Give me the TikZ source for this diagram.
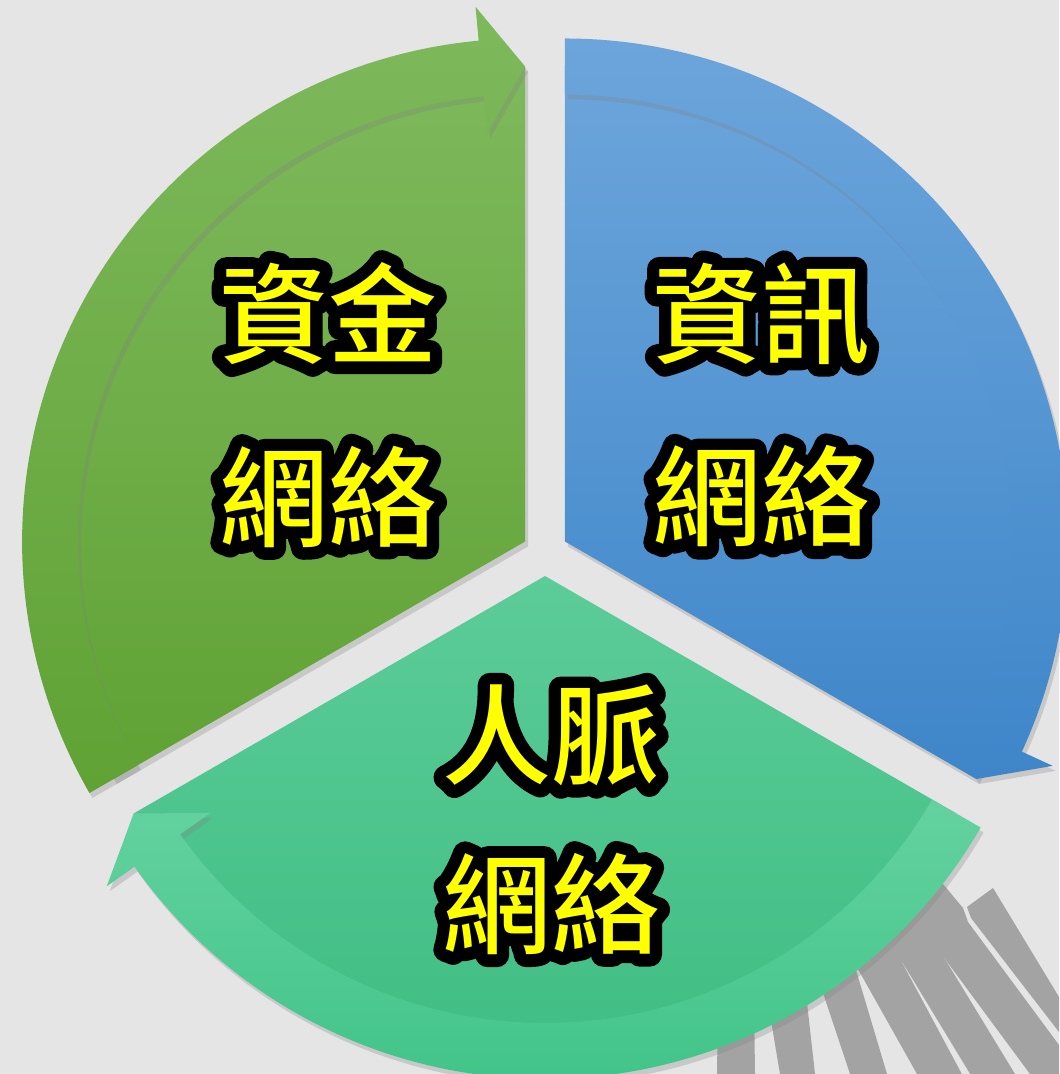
\documentclass[tikz,border=0pt]{standalone}
\usepackage{fontspec}
\IfFontExistsTF{Noto Sans CJK TC Medium}
  {\newfontfamily\cjk{Noto Sans CJK TC Medium}}
  {\newfontfamily\cjk{Noto Sans CJK TC}[FakeBold=1.2]}
\usepackage{tikz}
\usetikzlibrary{shadows}
\definecolor{paper}{RGB}{229,229,229}
\definecolor{stripe}{RGB}{163,163,163}
\definecolor{leafhi}{RGB}{126,185,92}
\definecolor{leaflo}{RGB}{96,162,52}
\definecolor{skyhi}{RGB}{108,165,219}
\definecolor{skylo}{RGB}{62,134,201}
\definecolor{minthi}{RGB}{92,204,152}
\definecolor{mintlo}{RGB}{60,188,129}
\definecolor{mintbandhi}{RGB}{100,210,160}
\definecolor{mintbandlo}{RGB}{66,196,137}
\definecolor{glowyellow}{RGB}{255,255,0}
\newcommand{\glow}[1]{\leavevmode\rlap{\special{pdf:literal direct 1 Tr 0 0 0 RG 7 w 1 j 1 J}#1\special{pdf:literal direct 0 Tr}}#1}

\begin{document}
\begin{tikzpicture}[x=0.1mm,y=0.1mm,
  seg/.style={drop shadow={shadow xshift=0.3mm,shadow yshift=-0.5mm,opacity=0.28}},
  netlabel/.style={font=\cjk\fontsize{31}{52}\selectfont,text=glowyellow,align=center,inner sep=0pt}]
\useasboundingbox (-545,-521) rectangle (514,553);
\fill[paper] (-545,-521) rectangle (514,553);

\begin{scope}[shift={(-545,553)},yscale=-1]
\fill[stripe] (717,1074) -- (755,1074) -- (754,1000) -- (718,1000) -- cycle;
\fill[stripe] (780,1074) -- (815,1074) -- (805,985) -- (765,985) -- cycle;
\fill[stripe] (850,1074) -- (887,1074) -- (850,950) -- (812,960) -- cycle;
\fill[stripe] (917,1074) -- (1015,1074) -- (909,900) -- (836,930) -- cycle;
\fill[paper] (902,962) -- (970,1074) -- (962,1074) -- cycle;
\fill[stripe] (1030,1074) -- (1059,1074) -- (1059,1045) -- (968,922) -- (963,908) -- (938,878) -- (905,905) -- cycle;
\fill[stripe] (967,907) -- (993,888) -- (1059,997) -- (1059,1032) -- (971,918) -- cycle;
\end{scope}

\begin{scope}[shift={(-19.9,11.5)}]
\path[seg,top color=leafhi,bottom color=leaflo] (0,0) -- (210:475) arc[start angle=210,end angle=90,radius=475] -- cycle;
\path[seg,top color=leafhi,bottom color=leaflo] (210:503) arc[start angle=210,end angle=95.3,radius=503]
  -- (95.3:537) -- (90:475) -- (95.3:410) -- (95.3:447) arc[start angle=95.3,end angle=210,radius=447] -- cycle;
\end{scope}

\begin{scope}[shift={(19.9,11.5)}]
\path[seg,top color=skyhi,bottom color=skylo] (0,0) -- (90:475) arc[start angle=90,end angle=-30,radius=475] -- cycle;
\path[seg,top color=skyhi,bottom color=skylo] (90:503) arc[start angle=90,end angle=-24.7,radius=503]
  -- (-24.7:537) -- (-30:475) -- (-24.7:410) -- (-24.7:447) arc[start angle=-24.7,end angle=90,radius=447] -- cycle;
\end{scope}

\begin{scope}[shift={(0,-23)}]
\path[seg,top color=minthi,bottom color=mintlo] (0,0) -- (-30:475) arc[start angle=-30,end angle=-150,radius=475] -- cycle;
\path[seg,top color=mintbandhi,bottom color=mintbandlo] (-30:503) arc[start angle=-30,end angle=-144.7,radius=503]
  -- (-144.7:537) -- (-150:475) -- (-144.7:410) -- (-144.7:447) arc[start angle=-144.7,end angle=-30,radius=447] -- cycle;
\end{scope}

\draw (-217,148) node (1) [netlabel] {\glow{資金}\\\glow{網絡}};
\draw (216,148) node (2) [netlabel] {\glow{資訊}\\\glow{網絡}};
\draw (6,-267) node (3) [netlabel,font=\cjk\fontsize{31}{48}\selectfont] {\glow{人脈}\\\glow{網絡}};
\end{tikzpicture}
\end{document}
